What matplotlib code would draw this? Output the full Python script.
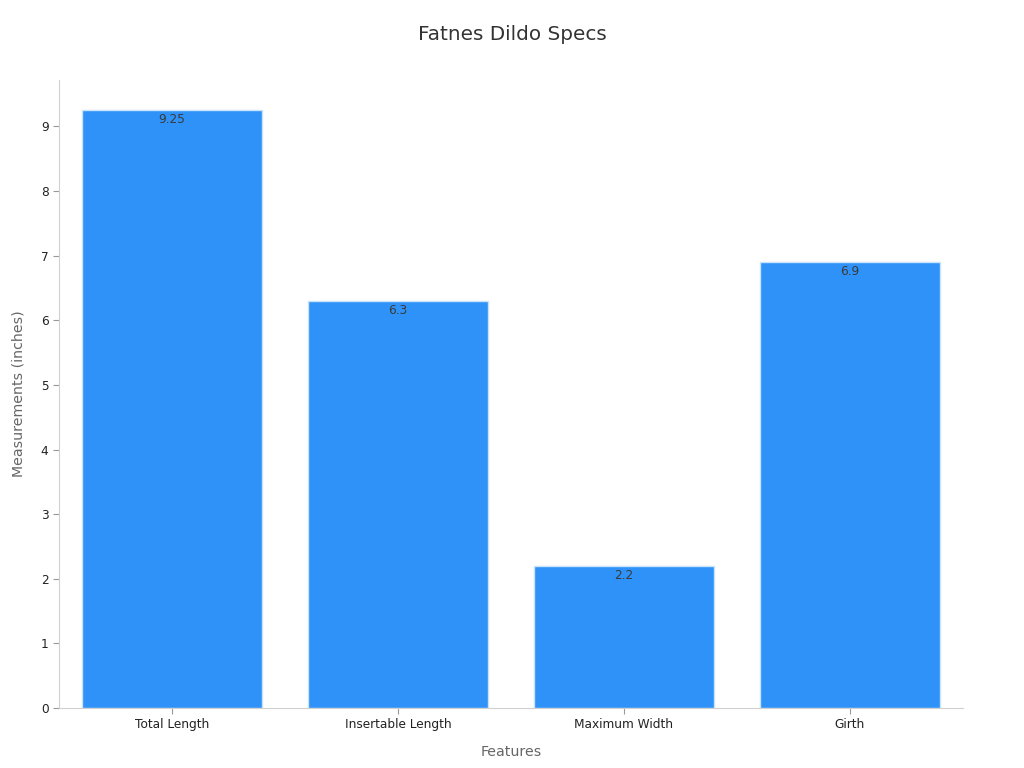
import matplotlib
matplotlib.use("Agg")
import matplotlib.pyplot as plt

features = ["Total Length", "Insertable Length", "Maximum Width", "Girth"]
measurements = [9.25, 6.3, 2.2, 6.9]
value_labels = ["9.25", "6.3", "2.2", "6.9"]

plt.rcParams['font.family'] = ['DejaVu Sans']

fig = plt.figure(figsize=(10.24, 7.68), dpi=100)
ax = fig.add_axes([0.0576, 0.078, 0.8828, 0.818])

x = range(len(features))
bars = ax.bar(x, measurements, width=0.8, color="#2e92f8", edgecolor="#c9e2fb", linewidth=1)

for xi, v, lab in zip(x, measurements, value_labels):
    ax.text(xi, v - 0.05, lab, ha="center", va="top", fontsize=8.7, color="#3a3a3a")

ax.set_xlim(-0.5, 3.5)
ax.set_ylim(0, 9.72)
ax.set_xticks(list(x))
ax.set_xticklabels(features, fontsize=8.7, color="#222222")
ax.set_yticks(range(10))
ax.tick_params(axis="y", labelsize=8.7, colors="#222222", length=4, color="#999999")
ax.tick_params(axis="x", length=4, color="#999999", pad=3)

for s in ["top", "right"]:
    ax.spines[s].set_visible(False)
ax.spines["left"].set_color("#d0d0d0")
ax.spines["bottom"].set_color("#d0d0d0")

ax.set_xlabel("Features", fontsize=10.2, color="#666666", labelpad=10)
ax.set_ylabel("Measurements (inches)", fontsize=10.2, color="#666666", labelpad=11)
fig.suptitle("Fatnes Dildo Specs", fontsize=14.4, color="#333333", y=0.968)

plt.savefig("out.png", dpi=100)
